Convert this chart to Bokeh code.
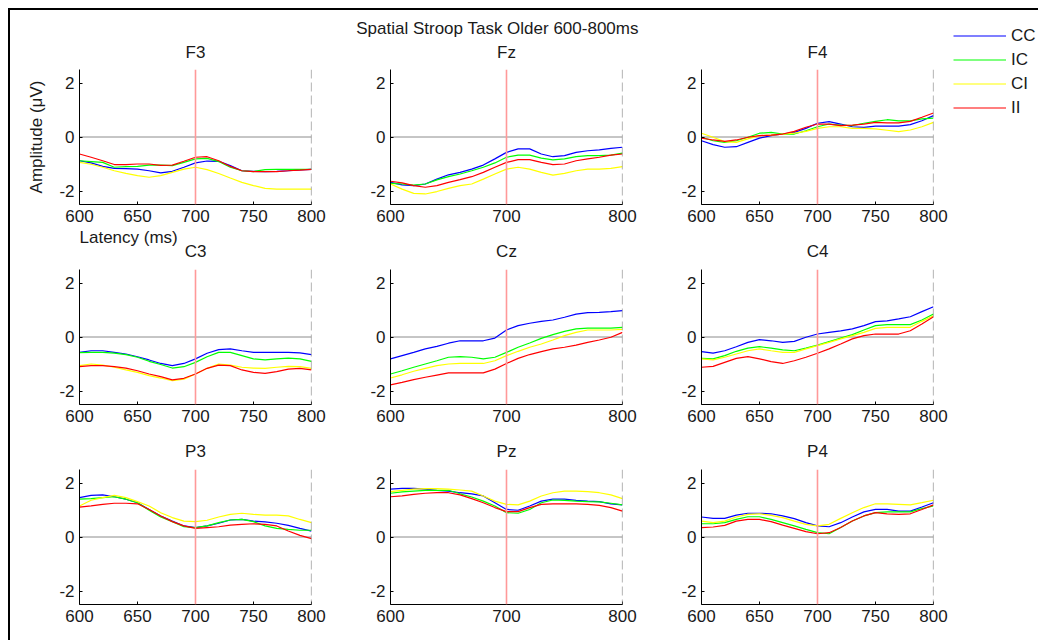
from bokeh.plotting import figure
from bokeh.layouts import column, row
from bokeh.models import (Range1d, FixedTicker, Span, Label, Legend, LegendItem, Spacer)
from bokeh.embed import file_html
from bokeh.resources import INLINE

# ---------------- data ----------------
times = [600, 610, 620, 630, 640, 650, 660, 670, 680, 690, 700,
         710, 720, 730, 740, 750, 760, 770, 780, 790, 800]

conditions = ["CC", "IC", "CI", "II"]
cond_colors = ["#0000FF", "#00FF00", "#FFFF00", "#FF0000"]

channels = [["F3", "Fz", "F4"], ["C3", "Cz", "C4"], ["P3", "Pz", "P4"]]

F3_CC = [-0.88,-0.96,-1.09,-1.16,-1.17,-1.19,-1.25,-1.33,-1.27,-1.12,-0.96,-0.89,-0.90,-1.06,-1.25,-1.27,-1.28,-1.27,-1.25,-1.22,-1.20]
F3_IC = [-0.88,-0.91,-0.94,-1.12,-1.10,-1.09,-1.04,-1.04,-1.06,-0.94,-0.81,-0.79,-0.91,-1.12,-1.25,-1.28,-1.21,-1.20,-1.20,-1.20,-1.20]
F3_CI = [-0.94,-1.01,-1.12,-1.25,-1.35,-1.43,-1.49,-1.43,-1.31,-1.19,-1.12,-1.21,-1.35,-1.52,-1.68,-1.80,-1.90,-1.93,-1.93,-1.93,-1.93]
F3_II = [-0.63,-0.75,-0.88,-1.02,-1.02,-1.00,-1.00,-1.05,-1.04,-0.90,-0.75,-0.73,-0.88,-1.09,-1.25,-1.28,-1.28,-1.28,-1.25,-1.23,-1.20]

Fz_CC = [-1.68,-1.77,-1.80,-1.74,-1.56,-1.40,-1.31,-1.19,-1.04,-0.81,-0.57,-0.44,-0.44,-0.63,-0.73,-0.69,-0.57,-0.51,-0.48,-0.42,-0.38]
Fz_IC = [-1.72,-1.74,-1.78,-1.74,-1.59,-1.47,-1.37,-1.25,-1.12,-0.96,-0.75,-0.67,-0.67,-0.78,-0.85,-0.81,-0.73,-0.69,-0.69,-0.67,-0.60]
Fz_CI = [-1.74,-1.93,-2.09,-2.11,-2.02,-1.90,-1.80,-1.74,-1.56,-1.37,-1.19,-1.12,-1.19,-1.31,-1.41,-1.35,-1.25,-1.19,-1.19,-1.16,-1.10]
Fz_II = [-1.64,-1.70,-1.80,-1.86,-1.80,-1.68,-1.58,-1.47,-1.31,-1.12,-0.94,-0.84,-0.84,-0.94,-1.02,-1.00,-0.88,-0.81,-0.75,-0.67,-0.63]

F4_CC = [-0.14,-0.28,-0.38,-0.36,-0.20,-0.04,0.05,0.11,0.17,0.32,0.51,0.57,0.48,0.38,0.36,0.40,0.40,0.40,0.46,0.60,0.79]
F4_IC = [-0.01,-0.14,-0.20,-0.14,-0.01,0.14,0.17,0.11,0.11,0.23,0.38,0.48,0.44,0.42,0.51,0.58,0.64,0.60,0.60,0.67,0.70]
F4_CI = [0.14,-0.01,-0.17,-0.20,-0.07,0.05,0.07,0.11,0.14,0.21,0.32,0.38,0.38,0.32,0.32,0.30,0.25,0.20,0.26,0.38,0.54]
F4_II = [-0.04,-0.11,-0.16,-0.11,-0.01,0.05,0.07,0.11,0.21,0.36,0.48,0.48,0.42,0.44,0.48,0.54,0.52,0.52,0.58,0.73,0.89]

C3_CC = [-0.57,-0.51,-0.51,-0.57,-0.63,-0.73,-0.85,-0.98,-1.06,-0.98,-0.81,-0.60,-0.47,-0.44,-0.51,-0.57,-0.57,-0.57,-0.57,-0.59,-0.65]
C3_IC = [-0.58,-0.57,-0.57,-0.60,-0.65,-0.75,-0.90,-1.02,-1.15,-1.10,-0.94,-0.73,-0.57,-0.57,-0.69,-0.81,-0.85,-0.81,-0.78,-0.81,-0.90]
C3_CI = [-1.06,-1.00,-1.04,-1.12,-1.22,-1.31,-1.43,-1.52,-1.62,-1.56,-1.37,-1.16,-1.00,-1.04,-1.12,-1.15,-1.16,-1.12,-1.09,-1.10,-1.16]
C3_II = [-1.10,-1.06,-1.06,-1.10,-1.15,-1.25,-1.37,-1.47,-1.59,-1.53,-1.37,-1.16,-1.04,-1.06,-1.22,-1.31,-1.35,-1.28,-1.19,-1.16,-1.22]

Cz_CC = [-0.81,-0.69,-0.57,-0.44,-0.35,-0.23,-0.14,-0.14,-0.14,-0.04,0.26,0.42,0.51,0.58,0.63,0.73,0.85,0.90,0.91,0.94,0.98]
Cz_IC = [-1.37,-1.25,-1.12,-1.00,-0.88,-0.75,-0.73,-0.75,-0.81,-0.75,-0.57,-0.38,-0.22,-0.05,0.09,0.21,0.30,0.33,0.33,0.33,0.36]
Cz_CI = [-1.52,-1.40,-1.27,-1.16,-1.06,-1.00,-0.98,-0.98,-0.98,-0.88,-0.69,-0.53,-0.38,-0.26,-0.11,0.05,0.17,0.26,0.26,0.26,0.28]
Cz_II = [-1.77,-1.68,-1.58,-1.49,-1.41,-1.33,-1.33,-1.33,-1.33,-1.19,-0.98,-0.79,-0.65,-0.54,-0.44,-0.38,-0.30,-0.20,-0.11,-0.01,0.17]

C4_CC = [-0.54,-0.60,-0.51,-0.36,-0.20,-0.10,-0.14,-0.20,-0.16,-0.01,0.11,0.17,0.23,0.30,0.42,0.57,0.60,0.67,0.75,0.94,1.12]
C4_IC = [-0.79,-0.81,-0.69,-0.53,-0.41,-0.36,-0.41,-0.48,-0.51,-0.41,-0.30,-0.17,-0.04,0.09,0.26,0.42,0.46,0.46,0.46,0.63,0.85]
C4_CI = [-0.81,-0.85,-0.75,-0.63,-0.51,-0.44,-0.51,-0.57,-0.57,-0.44,-0.32,-0.20,-0.07,0.05,0.17,0.32,0.36,0.36,0.36,0.58,0.79]
C4_II = [-1.12,-1.09,-0.94,-0.79,-0.73,-0.81,-0.91,-0.98,-0.88,-0.75,-0.60,-0.44,-0.26,-0.07,0.05,0.11,0.11,0.11,0.23,0.48,0.75]

P3_CC = [1.46,1.54,1.56,1.49,1.40,1.27,1.02,0.78,0.59,0.41,0.35,0.41,0.51,0.63,0.65,0.59,0.56,0.51,0.43,0.32,0.22]
P3_IC = [1.40,1.42,1.46,1.49,1.40,1.27,0.99,0.74,0.57,0.38,0.35,0.41,0.53,0.63,0.65,0.57,0.41,0.32,0.28,0.25,0.25]
P3_CI = [1.15,1.36,1.46,1.54,1.46,1.31,1.15,0.90,0.72,0.59,0.57,0.62,0.74,0.84,0.88,0.84,0.81,0.81,0.78,0.65,0.53]
P3_II = [1.11,1.15,1.21,1.25,1.25,1.23,1.02,0.78,0.57,0.41,0.32,0.35,0.38,0.44,0.47,0.49,0.47,0.41,0.22,0.06,-0.06]

Pz_CC = [1.77,1.80,1.80,1.77,1.73,1.70,1.64,1.60,1.52,1.27,1.02,0.99,1.15,1.33,1.40,1.40,1.36,1.33,1.31,1.23,1.19]
Pz_IC = [1.62,1.67,1.70,1.73,1.73,1.73,1.60,1.48,1.33,1.15,0.90,0.88,1.02,1.27,1.37,1.36,1.33,1.31,1.30,1.25,1.19]
Pz_CI = [1.68,1.73,1.77,1.79,1.79,1.77,1.74,1.70,1.52,1.33,1.21,1.19,1.33,1.52,1.64,1.70,1.70,1.68,1.64,1.56,1.42]
Pz_II = [1.49,1.52,1.58,1.62,1.64,1.64,1.56,1.42,1.27,1.09,0.94,0.94,1.09,1.21,1.23,1.23,1.23,1.21,1.17,1.09,0.96]

P4_CC = [0.74,0.69,0.69,0.81,0.88,0.88,0.86,0.78,0.68,0.53,0.41,0.38,0.53,0.74,0.93,1.02,1.02,0.96,0.96,1.11,1.27]
P4_IC = [0.49,0.49,0.53,0.65,0.75,0.75,0.65,0.53,0.41,0.28,0.16,0.12,0.35,0.59,0.78,0.90,0.93,0.93,0.93,1.05,1.15]
P4_CI = [0.59,0.53,0.59,0.74,0.84,0.86,0.80,0.72,0.59,0.47,0.41,0.47,0.69,0.90,1.09,1.23,1.23,1.21,1.19,1.27,1.36]
P4_II = [0.35,0.37,0.43,0.59,0.65,0.65,0.57,0.44,0.32,0.20,0.12,0.16,0.35,0.59,0.78,0.90,0.86,0.84,0.86,1.02,1.19]

x_ticks_full = [600, 650, 700, 750, 800]
x_ticks_mid = [600, 700, 800]
y_ticks = [-2, 0, 2]
y_tick_labels = {-2: "-2", 0: "0", 2: "2"}

main_title = "Spatial Stroop Task Older 600-800ms"
x_label = "Latency (ms)"
y_label = "Amplitude (\u03bcV)"

series = {}
for name in ["F3", "Fz", "F4", "C3", "Cz", "C4", "P3", "Pz", "P4"]:
    series[name] = [globals()[name + "_" + c] for c in conditions]

FONT = "Liberation Sans"
FS = "17px"
TXT = "#1a1a1a"
FW, FH = 232, 135


def style_plain(f):
    f.xgrid.visible = False
    f.ygrid.visible = False
    f.outline_line_color = None
    f.background_fill_color = "white"
    f.border_fill_color = "white"


def make_panel(name, xticks, bottom, left, right):
    p = figure(frame_width=FW, frame_height=FH,
               x_range=Range1d(600, 800), y_range=Range1d(-2.5, 2.5),
               toolbar_location=None, output_backend="svg",
               min_border_top=4, min_border_bottom=bottom,
               min_border_left=left, min_border_right=right)
    style_plain(p)
    for ax in (p.xaxis[0], p.yaxis[0]):
        ax.axis_line_color = "black"
        ax.axis_line_width = 1
        ax.major_tick_line_color = "black"
        ax.major_tick_in = 3
        ax.major_tick_out = 0
        ax.minor_tick_in = 0
        ax.minor_tick_out = 0
        ax.major_label_text_font = FONT
        ax.major_label_text_font_size = FS
        ax.major_label_text_color = TXT
        ax.major_label_standoff = 5
    p.xaxis[0].ticker = FixedTicker(ticks=xticks)
    p.yaxis[0].ticker = FixedTicker(ticks=y_ticks)
    p.yaxis[0].major_label_overrides = y_tick_labels

    p.add_layout(Span(location=0, dimension="width", line_color="#8c8c8c",
                      line_width=1, level="underlay"))
    for vals, col in zip(series[name], cond_colors):
        p.line(times, vals, line_color=col, line_width=1.2)
    p.add_layout(Span(location=700, dimension="height", line_color="#FF9999",
                      line_width=1.6))
    p.add_layout(Span(location=800, dimension="height", line_color="#808080",
                      line_width=1.2, line_dash="9 4"))
    return p


def make_strip(height, left, right, texts):
    # a text strip whose frame is lined up with the panel below it
    s = figure(frame_width=FW, frame_height=height, toolbar_location=None,
               output_backend="svg", x_range=Range1d(0, 1), y_range=Range1d(0, 1),
               x_axis_location=None, y_axis_location=None,
               min_border_top=0, min_border_bottom=0,
               min_border_left=left, min_border_right=right)
    style_plain(s)
    for (txt, x, y, align) in texts:
        s.add_layout(Label(x=x, y=y, x_units="screen", y_units="screen", text=txt,
                           text_align=align, text_baseline="middle",
                           text_font=FONT, text_font_size=FS, text_color=TXT))
    return s


CX = FW / 2

# column 1
F3 = make_panel("F3", x_ticks_full, 25, 69, 29)
F3.yaxis[0].axis_label = y_label
F3.yaxis[0].axis_label_text_font = FONT
F3.yaxis[0].axis_label_text_font_size = FS
F3.yaxis[0].axis_label_text_font_style = "normal"
F3.yaxis[0].axis_label_text_color = TXT
F3.yaxis[0].axis_label_standoff = 10
C3 = make_panel("C3", x_ticks_full, 25, 69, 29)
P3 = make_panel("P3", x_ticks_full, 36, 69, 29)
col1 = column(
    make_strip(23, 69, 29, [("F3", CX, 13.5, "center")]), F3,
    make_strip(36, 69, 29, [(x_label, 0, 28, "left"), ("C3", CX, 14, "center")]), C3,
    make_strip(36, 69, 29, [("P3", CX, 14, "center")]), P3,
)

# column 2
Fz = make_panel("Fz", x_ticks_mid, 25, 50, 29)
Cz = make_panel("Cz", x_ticks_mid, 25, 50, 29)
Pz = make_panel("Pz", x_ticks_mid, 36, 50, 29)
col2 = column(
    make_strip(23, 50, 29, [("Fz", CX, 13.5, "center")]), Fz,
    make_strip(36, 50, 29, [("Cz", CX, 14, "center")]), Cz,
    make_strip(36, 50, 29, [("Pz", CX, 14, "center")]), Pz,
)

# column 3
F4 = make_panel("F4", x_ticks_full, 25, 50, 15)
C4 = make_panel("C4", x_ticks_full, 25, 50, 15)
P4 = make_panel("P4", x_ticks_full, 36, 50, 15)
col3 = column(
    make_strip(23, 50, 15, [("F4", CX, 13.5, "center")]), F4,
    make_strip(36, 50, 15, [("C4", CX, 14, "center")]), C4,
    make_strip(36, 50, 15, [("P4", CX, 14, "center")]), P4,
)

# main title strip across the three columns
top = figure(width=938, height=32, toolbar_location=None, output_backend="svg",
             x_range=Range1d(0, 1), y_range=Range1d(0, 1),
             x_axis_location=None, y_axis_location=None, min_border=0)
style_plain(top)
top.add_layout(Label(x=487, y=14.5, x_units="screen", y_units="screen", text=main_title,
                     text_align="center", text_baseline="middle",
                     text_font=FONT, text_font_size=FS, text_color=TXT))

# legend column
leg = figure(width=90, height=110, toolbar_location=None, output_backend="svg",
             x_range=Range1d(0, 1), y_range=Range1d(0, 1),
             x_axis_location=None, y_axis_location=None, min_border=0)
style_plain(leg)
items = []
for c, col in zip(conditions, cond_colors):
    # kept outside the visible range: only the legend sample is seen
    r = leg.line(x=[5, 6], y=[5, 6], line_color=col, line_width=1.2)
    items.append(LegendItem(label=c, renderers=[r]))
legend = Legend(items=items, location="top_left", margin=0, padding=5, spacing=3,
                glyph_width=53, glyph_height=21, label_height=21, label_standoff=5,
                label_text_font=FONT, label_text_font_size=FS, label_text_color=TXT,
                border_line_alpha=0, background_fill_alpha=0)
leg.add_layout(legend)

layout = row(
    column(top, row(col1, col2, col3)),
    column(Spacer(width=90, height=10), leg),
    margin=(8, 0, 0, 8),
    styles={"border-top": "2px solid black", "border-left": "2px solid black"},
)

open("out.html", "w").write(file_html(layout, INLINE))
